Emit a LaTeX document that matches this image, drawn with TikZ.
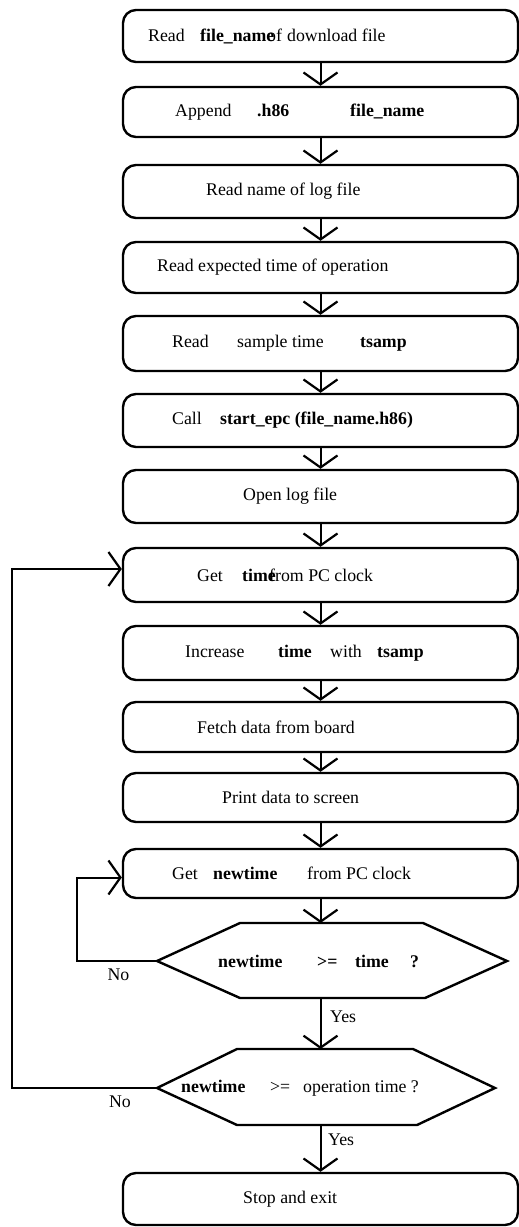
\documentclass[tikz,border=0pt]{standalone}
\usepackage{fontspec}
\setmainfont{Liberation Serif}
\usetikzlibrary{arrows.meta}
% fixed-width slot so that each word group starts where it should
\newcommand{\slot}[2]{\makebox[#1pt][l]{#2}}
\begin{document}
\begin{tikzpicture}[x=1pt,y=-1pt,
  proc/.style={draw, line width=2.4pt, rounded corners=13pt,
    minimum width=395pt, inner sep=0pt},
  txt/.style={anchor=west, inner sep=0pt,
    font=\fontsize{17.8pt}{21pt}\selectfont},
  lbl/.style={inner sep=0pt, font=\fontsize{17.8pt}{21pt}\selectfont},
  decision/.style={line width=2.4pt, line join=miter},
  conn/.style={line width=2pt,
    -{Straight Barb[length=12pt,width=34pt,line width=2.2pt]}},
  flow/.style={line width=2pt}]
\useasboundingbox (0,0) rectangle (519,1227);

% process boxes
\node[proc, minimum height=52pt] (b1)  at (320.5,36)    {};
\node[proc, minimum height=50pt] (b2)  at (320.5,112)   {};
\node[proc, minimum height=53pt] (b3)  at (320.5,191.5) {};
\node[proc, minimum height=51pt] (b4)  at (320.5,267.5) {};
\node[proc, minimum height=55pt] (b5)  at (320.5,343.5) {};
\node[proc, minimum height=53pt] (b6)  at (320.5,420.5) {};
\node[proc, minimum height=53pt] (b7)  at (320.5,496.5) {};
\node[proc, minimum height=54pt] (b8)  at (320.5,575)   {};
\node[proc, minimum height=54pt] (b9)  at (320.5,653)   {};
\node[proc, minimum height=50pt] (b10) at (320.5,727)   {};
\node[proc, minimum height=49pt] (b11) at (320.5,797.5) {};
\node[proc, minimum height=49pt] (b12) at (320.5,873.5) {};
\node[proc, minimum height=52pt] (b13) at (320.5,1199)  {};

% box texts
\node[txt] (t1)  at (148,36)    {\slot{52}{Read}\slot{67}{\textbf{file\_name}}\slot{20}{of}download file};
\node[txt] (t2)  at (175,112)   {\slot{82}{Append}\slot{93}{\textbf{.h86}}\textbf{file\_name}};
\node[txt] (t3)  at (206,191.5) {Read name of log file};
\node[txt] (t4)  at (157,267.5) {Read expected time of operation};
\node[txt] (t5)  at (172,343.5) {\slot{65}{Read}\slot{123}{sample time}\textbf{tsamp}};
\node[txt] (t6)  at (172,420.5) {\slot{48}{Call}\textbf{start\_epc (file\_name.h86)}};
\node[txt] (t7)  at (243,496.5) {Open log file};
\node[txt] (t8)  at (197,575)   {\slot{45}{Get}\slot{27}{\textbf{time}}from PC clock};
\node[txt] (t9)  at (185,653)   {\slot{93}{Increase}\slot{52}{\textbf{time}}\slot{47}{with}\textbf{tsamp}};
\node[txt] (t10) at (197,727)   {Fetch data from board};
\node[txt] (t11) at (222,797.5) {Print data to screen};
\node[txt] (t12) at (172,873.5) {\slot{41}{Get}\slot{94}{\textbf{newtime}}from PC clock};
\node[txt] (t13) at (243,1199)  {Stop and exit};

% decisions
\draw[decision] (157,961) -- (240,923) -- (423,923) -- (507,961)
  -- (425,998) -- (240,998) -- cycle;
\coordinate (d1n) at (320.5,923);
\coordinate (d1s) at (320.5,998);
\coordinate (d1w) at (157,961);
\node[txt] (d1t) at (218,961) {\slot{99}{\textbf{newtime}}\slot{38}{\textbf{>=}}\slot{55}{\textbf{time}}\textbf{?}};

\draw[decision] (157,1088) -- (237,1049) -- (413,1049) -- (495,1088)
  -- (417,1125) -- (237,1125) -- cycle;
\coordinate (d2n) at (320.5,1049);
\coordinate (d2s) at (320.5,1125);
\coordinate (d2w) at (157,1088);
\node[txt] (d2t) at (181,1088) {\slot{89}{\textbf{newtime}}\slot{33}{>=}operation time ?};

% straight flow
\draw[conn] (b1.south)  -- (b2.north);
\draw[conn] (b2.south)  -- (b3.north);
\draw[conn] (b3.south)  -- (b4.north);
\draw[conn] (b4.south)  -- (b5.north);
\draw[conn] (b5.south)  -- (b6.north);
\draw[conn] (b6.south)  -- (b7.north);
\draw[conn] (b7.south)  -- (b8.north);
\draw[conn] (b8.south)  -- (b9.north);
\draw[conn] (b9.south)  -- (b10.north);
\draw[conn] (b10.south) -- (b11.north);
\draw[conn] (b11.south) -- (b12.north);
\draw[conn] (b12.south) -- (d1n);
\draw[conn] (d1s) -- (d2n);
\draw[conn] (d2s) -- (b13.north);

% loops back
\draw[conn] (d1w) -- ++(-80,0) |- ([yshift=-4pt]b12.west);
\draw[conn] (d2w) -- ++(-145,0) |- ([yshift=6pt]b8.west);

% branch labels
\node[lbl] (no1)  at (118.5,975)  {No};
\node[lbl] (no2)  at (120,1102)   {No};
\node[txt] (yes1) at (330,1017)   {Yes};
\node[txt] (yes2) at (328,1140)   {Yes};
\end{tikzpicture}
\end{document}
